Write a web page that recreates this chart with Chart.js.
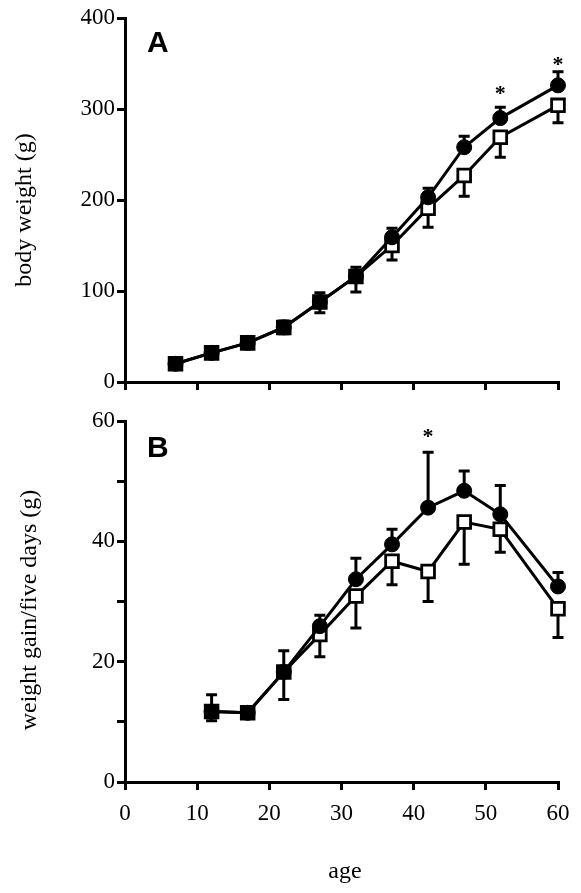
<!DOCTYPE html>
<html><head><meta charset="utf-8">
<script src="https://cdn.jsdelivr.net/npm/chart.js@4.4.0/dist/chart.umd.min.js"></script>
<style>
html,body{margin:0;padding:0;background:#fff;}
#wrap{position:relative;width:581px;height:893px;overflow:hidden;}
.box{position:absolute;left:0;width:581px;}
</style></head><body>
<div id="wrap">
<div class="box" style="top:0;height:400px"><canvas id="ca" width="581" height="400"></canvas></div>
<div class="box" style="top:400px;height:493px"><canvas id="cb" width="581" height="493"></canvas></div>
</div>
<script>
// ---- data ----
const agesA = [7, 12, 17, 22, 27, 32, 37, 42, 47, 52, 60];
const weightFilled = [20, 32, 43, 60, 88, 116, 159, 203, 258, 290, 326];
const weightFilledErr = [3, 4, 4, 7, 10, 10, 10, 10, 12, 12, 15];
const weightOpen = [20, 32, 43, 60, 88, 116, 150, 191, 227, 269, 304];
const weightOpenErr = [3, 4, 4, 7, 12, 17, 16, 21, 23, 22, 19];
const sigAgesA = [52, 60];
const sigValuesA = [322, 354];
const yTicksA = [0, 100, 200, 300, 400];

const agesB = [12, 17, 22, 27, 32, 37, 42, 47, 52, 60];
const gainFilled = [11.7, 11.5, 18.3, 25.9, 33.7, 39.5, 45.6, 48.4, 44.5, 32.5];
const gainFilledErr = [2.8, 0.5, 3.5, 1.8, 3.5, 2.5, 9.2, 3.3, 4.8, 2.3];
const gainOpen = [11.7, 11.5, 18.3, 24.5, 30.9, 36.7, 35.0, 43.2, 42.0, 28.8];
const gainOpenErr = [1.5, 0.5, 4.6, 3.7, 5.3, 3.9, 5.0, 7.0, 3.8, 4.8];
const sigAgesB = [42];
const sigValuesB = [58.2];
const yTicksB = [0, 20, 40, 60];
const xTicks = [0, 10, 20, 30, 40, 50, 60];

const SERIF = '"Liberation Serif", "DejaVu Serif", serif';
const SANS = '"Liberation Sans", Arial, sans-serif';

function pts(xs, ys) { return xs.map((x, i) => ({ x: x, y: ys[i] })); }

const errorBars = {
  id: 'errorBars',
  beforeDatasetsDraw(chart) {
    const ctx = chart.ctx, xs = chart.scales.x, ys = chart.scales.y;
    ctx.save();
    ctx.strokeStyle = '#000';
    ctx.lineWidth = 3;
    chart.data.datasets.forEach(ds => {
      if (!ds.err) return;
      ds.data.forEach((p, i) => {
        const e = ds.err[i];
        const px = xs.getPixelForValue(p.x);
        const y0 = ys.getPixelForValue(p.y);
        const y1 = ys.getPixelForValue(p.y + ds.errDir * e);
        ctx.beginPath();
        ctx.moveTo(px, y0); ctx.lineTo(px, y1);
        ctx.moveTo(px - 5.5, y1); ctx.lineTo(px + 5.5, y1);
        ctx.stroke();
      });
    });
    ctx.restore();
  }
};

const overlay = {
  id: 'overlay',
  afterDraw(chart, args, o) {
    const ctx = chart.ctx, xs = chart.scales.x, ys = chart.scales.y;
    ctx.save();
    ctx.fillStyle = '#000';
    // panel letter
    ctx.font = 'bold 30px ' + SANS;
    ctx.textAlign = 'left'; ctx.textBaseline = 'alphabetic';
    ctx.fillText(o.letter, o.letterX, o.letterY);
    // asterisks
    ctx.font = 'bold 22px ' + SERIF;
    ctx.textAlign = 'center'; ctx.textBaseline = 'middle';
    o.sigAges.forEach((a, i) => {
      ctx.fillText('*', xs.getPixelForValue(a), ys.getPixelForValue(o.sigValues[i]) + 5);
    });
    // y axis title
    ctx.font = '24px ' + SERIF;
    ctx.save();
    ctx.translate(o.yTitleX, o.yTitleY);
    ctx.rotate(-Math.PI / 2);
    ctx.textAlign = 'center'; ctx.textBaseline = 'middle';
    ctx.fillText(o.yTitle, 0, 0);
    ctx.restore();
    if (o.xTitle) {
      ctx.textAlign = 'center'; ctx.textBaseline = 'middle';
      ctx.fillText(o.xTitle, o.xTitleX, o.xTitleY);
    }
    ctx.restore();
  }
};

function makeChart(id, ages, fil, filErr, opn, opnErr, yMax, yStep, yLabelSet, showX, height, padTop, ov) {
  const gridCfg = { display: true, drawOnChartArea: false, drawTicks: true, tickLength: 8,
                    tickWidth: 3, lineWidth: 3, tickColor: '#000', color: '#000' };
  return new Chart(document.getElementById(id), {
    type: 'line',
    data: {
      datasets: [
        { data: pts(ages, fil), err: filErr, errDir: 1, order: 0, clip: false,
          borderColor: '#000', borderWidth: 3, pointStyle: 'circle', pointRadius: 7.5,
          pointBackgroundColor: '#000', pointBorderColor: '#000', pointBorderWidth: 1, tension: 0 },
        { data: pts(ages, opn), err: opnErr, errDir: -1, order: 1, clip: false,
          borderColor: '#000', borderWidth: 3, pointStyle: 'rect', pointRadius: 9,
          pointBackgroundColor: '#fff', pointBorderColor: '#000', pointBorderWidth: 2.8, tension: 0 }
      ]
    },
    options: {
      responsive: false, animation: false, devicePixelRatio: 1,
      layout: { padding: { top: padTop, right: 23, left: 0, bottom: 0 } },
      plugins: { legend: { display: false }, tooltip: { enabled: false }, overlay: ov },
      scales: {
        x: {
          type: 'linear', min: 0, max: 60,
          afterFit: s => { s.height = height - 382; },
          afterBuildTicks: s => { s.ticks = xTicks.map(v => ({ value: v })); },
          grid: gridCfg,
          border: { display: true, color: '#000', width: 3 },
          ticks: { display: showX, color: '#000', padding: 10, font: { family: SERIF, size: 23 } }
        },
        y: {
          min: 0, max: yMax,
          afterFit: s => { s.width = 125; },
          ticks: { stepSize: yStep, color: '#000', padding: 2, font: { family: SERIF, size: 23 },
                   callback: v => (yLabelSet.includes(v) ? String(v) : '') },
          grid: gridCfg,
          border: { display: true, color: '#000', width: 3 }
        }
      }
    },
    plugins: [errorBars, overlay]
  });
}

makeChart('ca', agesA, weightFilled, weightFilledErr, weightOpen, weightOpenErr,
  400, 100, yTicksA, false, 400, 18,
  { letter: 'A', letterX: 147, letterY: 52, sigAges: sigAgesA, sigValues: sigValuesA,
    yTitle: 'body weight (g)', yTitleX: 25, yTitleY: 210 });

makeChart('cb', agesB, gainFilled, gainFilledErr, gainOpen, gainOpenErr,
  60, 10, yTicksB, true, 493, 21,
  { letter: 'B', letterX: 147, letterY: 57, sigAges: sigAgesB, sigValues: sigValuesB,
    yTitle: 'weight gain/five days (g)', yTitleX: 30, yTitleY: 210,
    xTitle: 'age', xTitleX: 345, xTitleY: 472 });
</script>
</body></html>
